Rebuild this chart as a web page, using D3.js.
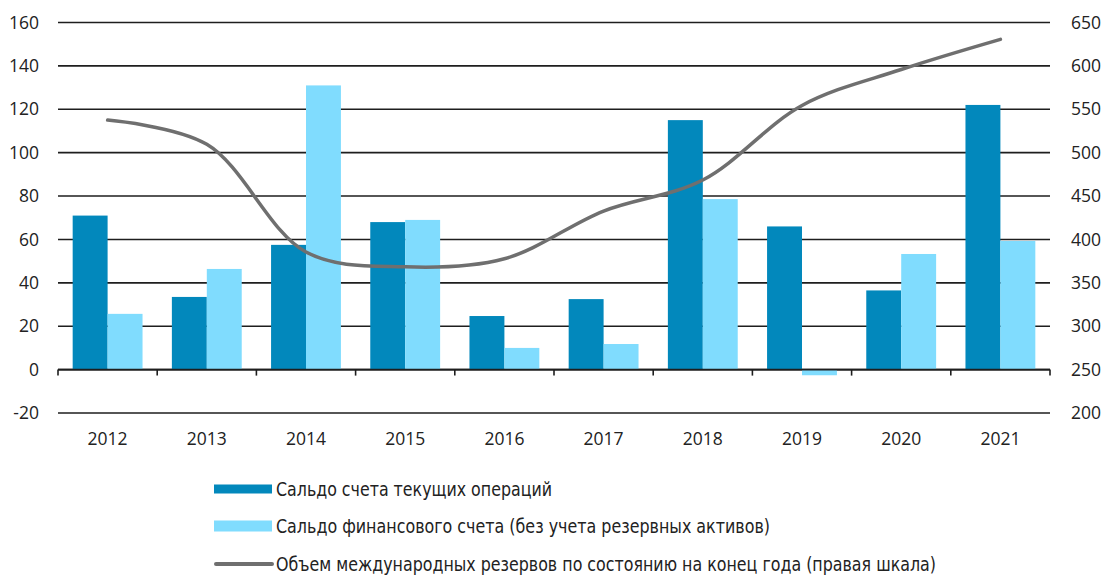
<!DOCTYPE html>
<html>
<head>
<meta charset="utf-8">
<script src="https://cdn.jsdelivr.net/npm/d3@7"></script>
<style>
  html, body { margin: 0; padding: 0; background: #fff; }
  svg { display: block; }
  .tick-label { font-family: "Open Sans", sans-serif; font-size: 17.5px; fill: #222; }
  .legend-label { font-family: "Liberation Sans Narrow", "DejaVu Sans Condensed", sans-serif; font-size: 19px; fill: #222; }
</style>
</head>
<body>
<svg id="chart" width="1107" height="575"></svg>
<script>
// chart data (billion USD)
const years = ['2012', '2013', '2014', '2015', '2016', '2017', '2018', '2019', '2020', '2021'];
const currentAccount = [71, 33.5, 57.5, 68, 24.7, 32.5, 115, 66, 36.5, 122];
const financialAccount = [25.7, 46.4, 131, 69, 10, 11.8, 78.6, -2.6, 53.3, 59.3];
const reserves = [537.6, 509.6, 385.5, 368.4, 377.7, 432.7, 468.5, 554.4, 595.8, 630.6];

const leftTicks = [-20, 0, 20, 40, 60, 80, 100, 120, 140, 160];
const rightTicks = [200, 250, 300, 350, 400, 450, 500, 550, 600, 650];

const seriesNames = [
  'Сальдо счета текущих операций',
  'Сальдо финансового счета (без учета резервных активов)',
  'Объем международных резервов по состоянию на конец года (правая шкала)'
];
const colors = { current: '#0288bc', financial: '#80dcfe', line: '#6f6f6f', grid: '#1e1e1e' };

const svg = d3.select('#chart');
const plot = { left: 58, right: 1050, top: 22.5, bottom: 413 };

const x0 = d3.scaleBand().domain(years).range([plot.left, plot.right]).padding(0);
const x1 = d3.scaleBand().domain(['current', 'financial'])
  .range([0, x0.bandwidth()]).paddingInner(0).paddingOuter(0.42);
const yL = d3.scaleLinear().domain([-20, 160]).range([plot.bottom, plot.top]);
const yR = d3.scaleLinear().domain([200, 650]).range([plot.bottom, plot.top]);

// gridlines
svg.append('g').selectAll('line')
  .data(leftTicks)
  .join('line')
  .attr('x1', plot.left).attr('x2', plot.right)
  .attr('y1', d => yL(d)).attr('y2', d => yL(d))
  .attr('stroke', colors.grid)
  .attr('stroke-width', 1.6);

// bars
const rows = years.map((yr, i) => ({ yr, current: currentAccount[i], financial: financialAccount[i] }));
const groups = svg.append('g').selectAll('g')
  .data(rows)
  .join('g')
  .attr('transform', d => `translate(${x0(d.yr)},0)`);

groups.selectAll('rect')
  .data(d => ['current', 'financial'].map(k => ({ k, v: d[k] })))
  .join('rect')
  .attr('x', d => x1(d.k))
  .attr('width', x1.bandwidth())
  .attr('y', d => yL(Math.max(0, d.v)))
  .attr('height', d => Math.abs(yL(d.v) - yL(0)))
  .attr('fill', d => colors[d.k]);

// zero axis with ticks
const zeroAxis = svg.append('g');
zeroAxis.append('line')
  .attr('x1', plot.left).attr('x2', plot.right)
  .attr('y1', yL(0)).attr('y2', yL(0))
  .attr('stroke', colors.grid).attr('stroke-width', 1.6);
zeroAxis.selectAll('line.tk')
  .data(years.map(y => x0(y)).concat([plot.right]))
  .join('line')
  .attr('class', 'tk')
  .attr('x1', d => d).attr('x2', d => d)
  .attr('y1', yL(0)).attr('y2', yL(0) + 6)
  .attr('stroke', colors.grid).attr('stroke-width', 1.6);

// reserves line (right scale)
const line = d3.line()
  .x((d, i) => x0(years[i]) + x0.bandwidth() / 2)
  .y(d => yR(d))
  .curve(d3.curveCatmullRom.alpha(0.5));

svg.append('path')
  .datum(reserves)
  .attr('d', line)
  .attr('fill', 'none')
  .attr('stroke', colors.line)
  .attr('stroke-width', 3.5)
  .attr('stroke-linecap', 'round');

// left axis labels
svg.append('g').selectAll('text')
  .data(leftTicks)
  .join('text')
  .attr('class', 'tick-label')
  .attr('x', 39)
  .attr('y', d => yL(d))
  .attr('dy', '0.35em')
  .attr('text-anchor', 'end')
  .text(d => d);

// right axis labels
svg.append('g').selectAll('text')
  .data(rightTicks)
  .join('text')
  .attr('class', 'tick-label')
  .attr('x', 1071)
  .attr('y', d => yR(d))
  .attr('dy', '0.35em')
  .text(d => d);

// year labels
svg.append('g').selectAll('text')
  .data(years)
  .join('text')
  .attr('class', 'tick-label')
  .attr('x', d => x0(d) + x0.bandwidth() / 2)
  .attr('y', 439)
  .attr('dy', '0.35em')
  .attr('text-anchor', 'middle')
  .text(d => d);

// legend
const legend = svg.append('g');
const legendRows = [
  { name: seriesNames[0], type: 'rect', color: colors.current, y: 489, h: 9, len: 276 },
  { name: seriesNames[1], type: 'rect', color: colors.financial, y: 526, h: 11, len: 494 },
  { name: seriesNames[2], type: 'line', color: colors.line, y: 564, len: 660 }
];
legendRows.forEach(r => {
  if (r.type === 'rect') {
    legend.append('rect')
      .attr('x', 214).attr('width', 58)
      .attr('y', r.y - r.h / 2).attr('height', r.h)
      .attr('fill', r.color);
  } else {
    legend.append('line')
      .attr('x1', 216).attr('x2', 272)
      .attr('y1', r.y).attr('y2', r.y)
      .attr('stroke', r.color).attr('stroke-width', 4)
      .attr('stroke-linecap', 'round');
  }
  legend.append('text')
    .attr('class', 'legend-label')
    .attr('x', 276)
    .attr('y', r.y)
    .attr('dy', '0.35em')
    .attr('textLength', r.len)
    .attr('lengthAdjust', 'spacingAndGlyphs')
    .text(r.name);
});
</script>
</body>
</html>
